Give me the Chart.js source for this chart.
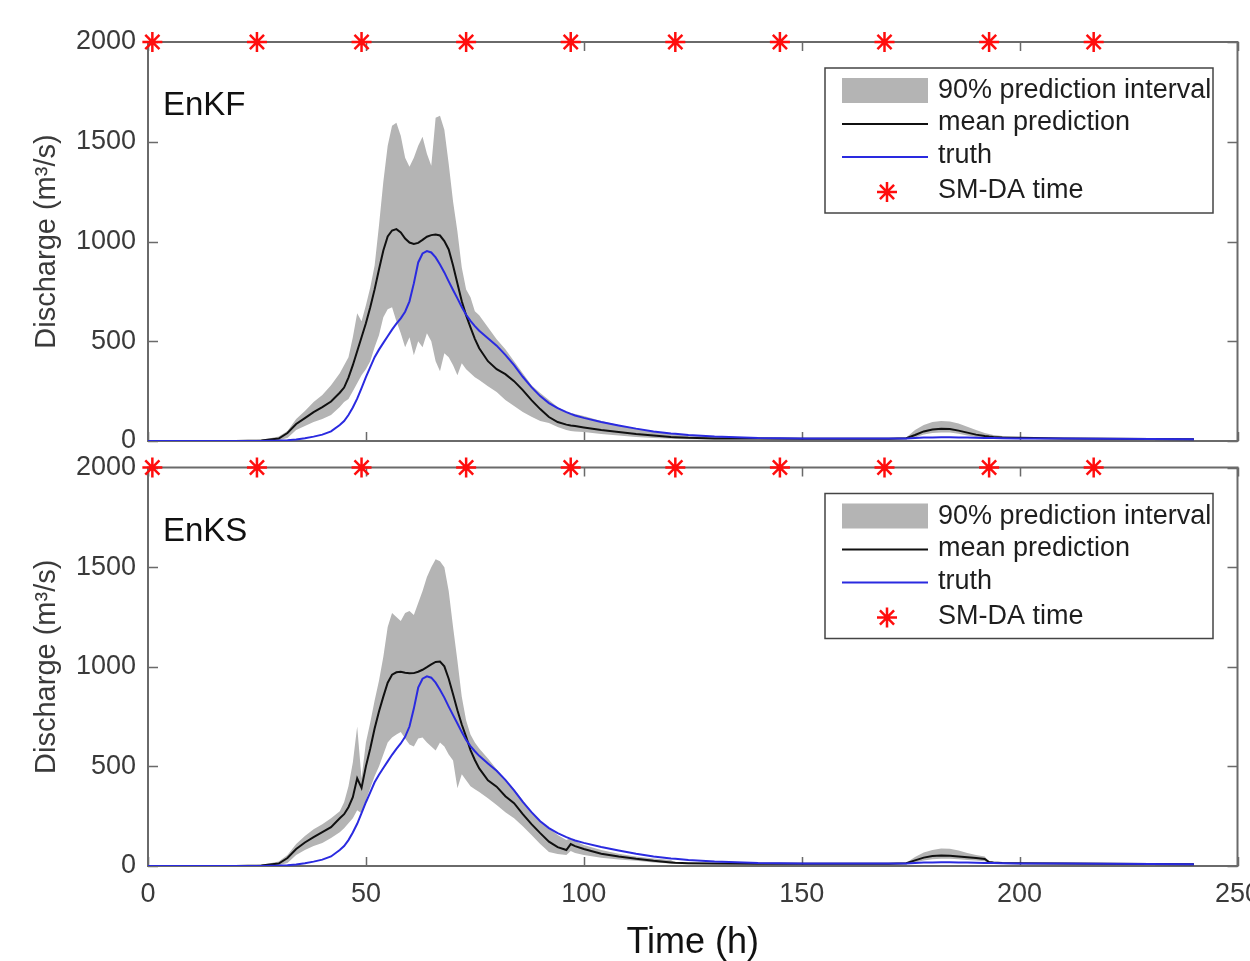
<!DOCTYPE html>
<html>
<head>
<meta charset="utf-8">
<script src="https://cdn.jsdelivr.net/npm/chart.js@4.4.1/dist/chart.umd.min.js"></script>
<style>
  html, body { margin: 0; padding: 0; background: #fff; }
  #wrap { position: relative; width: 1250px; height: 961px; overflow: hidden; }
  canvas { position: absolute; left: 0; }
  #enkfChart { top: 0; }
  #enksChart { top: 455px; }
</style>
</head>
<body>
<div id="wrap">
  <canvas id="enkfChart" width="1250" height="455"></canvas>
  <canvas id="enksChart" width="1250" height="506"></canvas>
</div>
<script>
// time axis (h), shared by every series
const hours = [
  0, 10, 20, 26, 28, 30, 32, 34, 36, 38,
  40, 42, 44, 45, 46, 47, 48, 49, 50, 51,
  52, 53, 54, 55, 56, 57, 58, 59, 60, 61,
  62, 63, 64, 65, 66, 67, 68, 69, 70, 71,
  72, 73, 74, 75, 76, 78, 80, 82, 84, 86,
  88, 90, 92, 94, 96, 97, 98, 100, 104, 108,
  112, 116, 120, 121, 124, 130, 140, 150, 160, 170,
  174, 176, 178, 180, 182, 184, 186, 188, 190, 192,
  193, 194, 196, 200, 210, 220, 230, 240
];

// truth discharge (m3/s), same in both panels
const truth = [
  0, 0, 0, 0, 1, 2, 4, 8, 14, 22,
  32, 48, 80, 100, 130, 168, 212, 265, 320, 370,
  420, 458, 492, 525, 558, 588, 615, 648, 700, 790,
  895, 940, 952, 945, 920, 885, 845, 800, 757, 715,
  672, 633, 602, 576, 553, 515, 478, 432, 380, 322,
  270, 225, 190, 165, 145, 136, 128, 116, 95, 78,
  62, 48, 38, 36, 30, 22, 15, 13, 12, 12,
  13, 15, 17, 18, 19, 19, 18, 17, 16, 15,
  15, 15, 14, 13, 12, 11, 10, 9
];

// EnKF
const enkfMean = [
  0, 0, 0, 3, 8, 12, 40, 85, 115, 145,
  170, 198, 242, 268, 318, 380, 450, 520, 590, 670,
  760, 860, 955, 1025, 1055, 1062, 1045, 1015, 995, 988,
  993, 1008, 1024, 1032, 1035, 1030, 1002, 960, 880, 790,
  700, 630, 570, 512, 465, 400, 360, 335, 300, 255,
  205, 160, 120, 95, 82, 78, 75, 68, 55, 45,
  35, 27, 20, 19, 16, 13, 12, 11, 11, 11,
  14, 30, 48, 58, 62, 60, 52, 42, 32, 25,
  22, 20, 18, 16, 13, 11, 10, 9
];
const enkfHigh = [
  0, 0, 0, 6, 14, 22, 50, 110, 150, 195,
  230, 280, 340, 380, 420, 520, 640, 600, 680, 770,
  880, 1080, 1300, 1480, 1580, 1595, 1530, 1420, 1375, 1420,
  1480, 1525, 1440, 1380, 1620, 1630, 1560, 1390, 1200, 1050,
  870, 760, 720, 650, 630, 570, 510, 460, 400, 340,
  280, 240, 205, 170, 145, 140, 135, 125, 100, 80,
  62, 48, 38, 36, 30, 22, 17, 15, 14, 14,
  18, 55, 80, 95, 100, 98, 88, 72, 55, 40,
  35, 30, 25, 20, 15, 13, 12, 11
];
const enkfLow = [
  0, 0, 0, 0, 2, 4, 15, 55, 75, 95,
  110, 130, 170, 195, 210, 250, 290, 330, 360, 400,
  470, 530, 620, 660, 670, 600, 540, 470, 520, 430,
  500, 470, 540, 500, 400, 350, 440, 420, 380, 330,
  390, 360, 340, 320, 306, 275, 245, 205, 175, 145,
  122, 100, 90, 70, 55, 50, 48, 45, 35, 28,
  20, 15, 11, 10, 9, 8, 7, 7, 7, 7,
  9, 18, 32, 40, 43, 42, 36, 28, 20, 15,
  13, 12, 11, 10, 8, 7, 6, 6
];

// EnKS
const enksMean = [
  0, 0, 0, 3, 8, 12, 40, 85, 118, 145,
  170, 195, 240, 260, 295, 345, 440, 392, 500, 590,
  690, 775, 850, 920, 960, 972, 975, 970, 967, 968,
  975, 985, 998, 1012, 1024, 1026, 1002, 940, 862, 782,
  710, 648, 582, 532, 490, 430, 398, 350, 315, 260,
  210, 165, 122, 95, 80, 110, 100, 85, 62, 48,
  36, 26, 18, 16, 14, 12, 11, 11, 11, 11,
  14, 28, 42, 50, 53, 52, 48, 44, 40, 35,
  20, 17, 15, 14, 12, 11, 10, 9
];
const enksHigh = [
  0, 0, 0, 6, 14, 22, 55, 110, 150, 185,
  210, 240, 275, 320, 400, 520, 700, 440, 620, 720,
  830, 930, 1050, 1200, 1270, 1250, 1230, 1270, 1280, 1260,
  1320, 1380, 1450, 1500, 1540, 1530, 1500, 1380, 1200, 1030,
  850, 730, 660, 620, 590, 540, 485, 430, 385, 330,
  270, 225, 190, 155, 130, 140, 125, 105, 80, 62,
  48, 38, 30, 16, 15, 13, 12, 12, 12, 12,
  16, 45, 68, 80, 88, 86, 78, 65, 55, 48,
  20, 18, 16, 15, 13, 12, 11, 10
];
const enksLow = [
  0, 0, 0, 0, 2, 4, 15, 55, 80, 100,
  115, 140, 170, 190, 215, 240, 280, 265, 330, 390,
  450, 500, 560, 620, 645, 660, 673, 640, 610, 600,
  640, 645, 620, 600, 580, 620, 600, 560, 530, 390,
  460, 430, 400, 385, 372, 340, 306, 270, 240, 200,
  155, 110, 70, 60, 55, 75, 65, 55, 42, 33,
  26, 18, 12, 10, 9, 8, 7, 7, 7, 7,
  9, 18, 28, 34, 36, 36, 34, 30, 27, 24,
  12, 11, 10, 10, 8, 7, 6, 6
];

// soil moisture assimilation times, plotted on the top of the axes
const smTimes = [1, 25, 49, 73, 97, 121, 145, 169, 193, 217];
const smLevel = 2000;

const xTicks = [0, 50, 100, 150, 200, 250];
const yTicks = [0, 500, 1000, 1500, 2000];

const legendLabels = ['90% prediction interval', 'mean prediction', 'truth', 'SM-DA time'];

const fontFam = "'Liberation Sans', Arial, Helvetica, sans-serif";
const red = '#ff0d0d';
const blue = '#2a2ae0';
const black = '#101010';
const gray = 'rgb(180,180,180)';
const axisGray = '#6a6a6a';
const tickText = '#3a3a3a';

function drawStar(ctx, cx, cy, r) {
    ctx.beginPath();
    for (let k = 0; k < 4; k++) {
        const ang = k * Math.PI / 4;
        ctx.moveTo(cx - r * Math.cos(ang), cy - r * Math.sin(ang));
        ctx.lineTo(cx + r * Math.cos(ang), cy + r * Math.sin(ang));
    }
    ctx.stroke();
}

// matlab style box with inward ticks
const frameTicks = {
    id: 'frameTicks',
    beforeDatasetsDraw(chart) {
        const { ctx, chartArea: a, scales: { x, y } } = chart;
        ctx.save();
        ctx.strokeStyle = axisGray;
        ctx.lineWidth = 1.5;
        ctx.beginPath();
        xTicks.forEach(v => {
            const px = Math.round(x.getPixelForValue(v)) + 0.5;
            ctx.moveTo(px, a.bottom); ctx.lineTo(px, a.bottom - 9);
            ctx.moveTo(px, a.top); ctx.lineTo(px, a.top + 9);
        });
        yTicks.forEach(v => {
            const py = Math.round(y.getPixelForValue(v)) + 0.5;
            ctx.moveTo(a.left, py); ctx.lineTo(a.left + 10, py);
            ctx.moveTo(a.right, py); ctx.lineTo(a.right - 10, py);
        });
        ctx.stroke();
        ctx.lineWidth = 2;
        ctx.strokeRect(a.left, a.top, a.right - a.left, a.bottom - a.top);
        ctx.restore();
    }
};

// panel name + legend box
const panelDecor = {
    id: 'panelDecor',
    afterDatasetsDraw(chart, args, opts) {
        const { ctx, chartArea: a } = chart;
        ctx.save();
        ctx.fillStyle = '#111';
        ctx.font = `33px ${fontFam}`;
        ctx.textBaseline = 'alphabetic';
        ctx.fillText(opts.title, a.left + 15, a.top + 73);

        const bx = a.left + 677, by = a.top + 26, bw = 388, bh = 145;
        ctx.fillStyle = '#fff';
        ctx.fillRect(bx, by, bw, bh);
        ctx.strokeStyle = '#444';
        ctx.lineWidth = 1.5;
        ctx.strokeRect(bx, by, bw, bh);

        const sx0 = a.left + 694, sx1 = a.left + 780;
        ctx.fillStyle = gray;
        ctx.fillRect(sx0, a.top + 36, sx1 - sx0, 25);
        ctx.lineWidth = 2;
        ctx.strokeStyle = black;
        ctx.beginPath(); ctx.moveTo(sx0, a.top + 82); ctx.lineTo(sx1, a.top + 82); ctx.stroke();
        ctx.strokeStyle = blue;
        ctx.beginPath(); ctx.moveTo(sx0, a.top + 115); ctx.lineTo(sx1, a.top + 115); ctx.stroke();
        ctx.strokeStyle = red;
        ctx.lineWidth = 2.5;
        drawStar(ctx, a.left + 739, a.top + 150, 10);

        ctx.fillStyle = '#1e1e1e';
        ctx.font = `27px ${fontFam}`;
        const baselines = [56, 88, 121, 156];
        legendLabels.forEach((t, i) => ctx.fillText(t, a.left + 790, a.top + baselines[i]));
        ctx.restore();
    }
};

function makePanel(canvasId, title, mean, low, high, showX) {
    const pts = arr => hours.map((h, i) => ({ x: h, y: arr[i] }));
    return new Chart(document.getElementById(canvasId), {
        type: 'line',
        data: {
            datasets: [
                {
                    label: 'SM-DA time',
                    data: smTimes.map(t => ({ x: t, y: smLevel })),
                    showLine: false,
                    pointStyle: 'star',
                    pointRadius: 10,
                    pointBorderWidth: 2.5,
                    borderColor: red,
                    backgroundColor: red,
                    clip: false
                },
                { label: 'truth', data: pts(truth), borderColor: blue, borderWidth: 2, pointRadius: 0, fill: false },
                { label: 'mean prediction', data: pts(mean), borderColor: black, borderWidth: 2, pointRadius: 0, fill: false },
                {
                    label: '90% upper', data: pts(high), borderColor: 'rgba(0,0,0,0)', borderWidth: 0,
                    pointRadius: 0, fill: '+1', backgroundColor: gray
                },
                { label: '90% lower', data: pts(low), borderColor: 'rgba(0,0,0,0)', borderWidth: 0, pointRadius: 0, fill: false }
            ]
        },
        options: {
            responsive: false,
            animation: false,
            events: [],
            layout: { padding: { top: showX ? 12 : 42, right: 10, bottom: showX ? 0 : 14, left: 0 } },
            elements: { line: { tension: 0 } },
            plugins: {
                legend: { display: false },
                tooltip: { enabled: false },
                panelDecor: { title: title }
            },
            scales: {
                x: {
                    type: 'linear', min: 0, max: 250,
                    ticks: {
                        display: showX, stepSize: 50, padding: 12, color: tickText,
                        font: { size: 27, family: fontFam }, callback: v => String(v)
                    },
                    grid: { display: false, drawTicks: false },
                    border: { display: false },
                    title: {
                        display: showX, text: 'Time (h)', color: '#111',
                        font: { size: 36, family: fontFam, lineHeight: 1 }, padding: 0
                    },
                    afterFit(s) { s.height = showX ? 95 : 0; s.paddingLeft = 0; s.paddingRight = 0; }
                },
                y: {
                    min: 0, max: 2000,
                    ticks: {
                        stepSize: 500, padding: 12, color: tickText,
                        font: { size: 27, family: fontFam }, callback: v => String(v)
                    },
                    grid: { display: false, drawTicks: false },
                    border: { display: false },
                    title: {
                        display: true, text: 'Discharge (m³/s)', color: tickText,
                        font: { size: 29, family: fontFam }, padding: { top: 30, bottom: 0 }
                    },
                    afterFit(s) { s.width = 148; s.paddingTop = 0; s.paddingBottom = 0; }
                }
            }
        },
        plugins: [frameTicks, panelDecor]
    });
}

makePanel('enkfChart', 'EnKF', enkfMean, enkfLow, enkfHigh, false);
makePanel('enksChart', 'EnKS', enksMean, enksLow, enksHigh, true);
</script>
</body>
</html>
